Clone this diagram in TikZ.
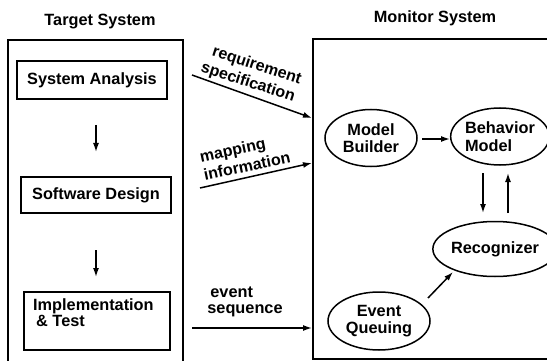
\documentclass[tikz,border=0pt]{standalone}
\usepackage{fontspec}
\setmainfont{Liberation Sans}
\usetikzlibrary{arrows.meta,shapes.geometric,calc}
\begin{document}
\begin{tikzpicture}[x=1pt,y=-1pt,
  every node/.style={font=\fontsize{16.3}{17.5}\selectfont\bfseries, inner sep=0pt},
  frame/.style={draw, line width=1.8pt},
  stepbox/.style={draw, line width=1.5pt, rectangle},
  proc/.style={draw, line width=1.5pt, ellipse, inner sep=0pt},
  arr/.style={line width=1.5pt, -{Latex[length=9pt,width=6pt]}},
  lbl/.style={inner sep=0pt, align=left, font=\fontsize{16.3}{16.5}\selectfont\bfseries},
  rlbl/.style={inner sep=0pt, align=left, font=\fontsize{16}{18.5}\selectfont\bfseries}
]
\useasboundingbox (0,0) rectangle (547,361);
% titles
\node (tt) at (100,22) {Target System};
\node (mt) at (435,18) {Monitor System};
% frames
\draw[frame] (8,366) -- (8,40) -- (183,40) -- (183,366);
\draw[frame] (555,359) -- (313,359) -- (313,39) -- (555,39);
% target boxes
\node[stepbox, minimum width=150pt, minimum height=38pt] (sa) at (92,80) {System Analysis};
\node[stepbox, minimum width=150pt, minimum height=36pt] (sd) at (96,195) {Software Design};
\draw[stepbox] (24,292) rectangle (170,350);
\node[anchor=north west, lbl] (it) at (33,298) {Implementation\\\hspace{3pt}\& Test};
% target arrows
\coordinate (a1s) at (96,125);
\coordinate (a1e) at (96,152);
\coordinate (a2s) at (96,250);
\coordinate (a2e) at (96,277);
\draw[arr] (a1s) -- (a1e);
\draw[arr] (a2s) -- (a2e);
% monitor ellipses
\node[proc, minimum width=92pt, minimum height=57pt, align=center] (mb) at (371,138) {Model\\Builder};
\node[proc, minimum width=93pt, minimum height=57pt, align=left] (bm) at (500,136.5) {Behavior\\Model};
\node[proc, minimum width=104pt, minimum height=55pt] (rec) at (495,249) {Recognizer};
\node[proc, minimum width=102pt, minimum height=58pt, align=center] (eq) at (379,321) {Event\\Queuing};
% monitor arrows
\coordinate (h1) at (422,139);
\coordinate (h2) at (450,139);
\draw[arr] (h1) -- (h2);
\coordinate (d1) at (483,173);
\coordinate (d2) at (483,213);
\coordinate (u1) at (508,213);
\coordinate (u2) at (508,173);
\draw[arr] (d1) -- (d2);
\draw[arr] (u1) -- (u2);
\coordinate (e1) at (428,298);
\coordinate (e2) at (453,272);
\draw[arr] (e1) -- (e2);
% input arrows
\coordinate (r1) at (192,75);
\coordinate (r2) at (312,118);
\draw[arr] (r1) -- (r2);
\node[rotate=-18, rlbl] (rq) at (251,74) {\hspace{6pt}requirement\\specification};
\coordinate (m1) at (200,188);
\coordinate (m2) at (312,163);
\draw[arr] (m1) -- (m2);
\node[rotate=12, rlbl] (mp) at (245,157) {mapping\\information};
\coordinate (s1) at (192,328);
\coordinate (s2) at (312,328);
\draw[arr] (s1) -- (s2);
\node[lbl] (ev) at (245,302) {\hspace{3pt}event\\sequence};
\end{tikzpicture}
\end{document}
